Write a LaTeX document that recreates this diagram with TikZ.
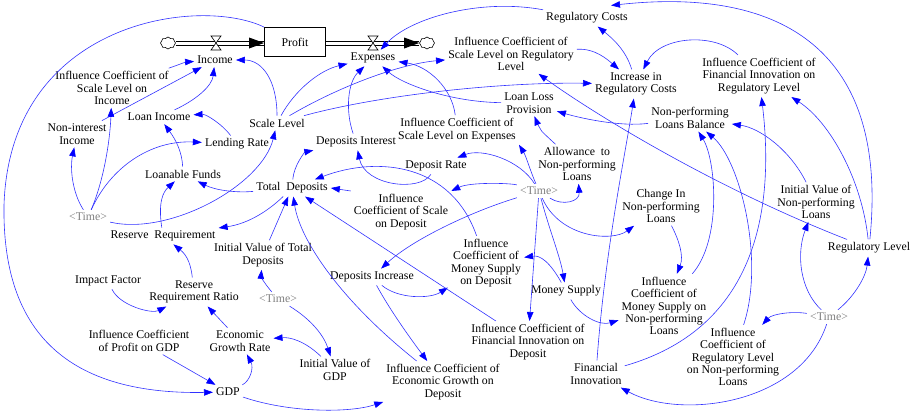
\documentclass[tikz,border=0pt]{standalone}
\usepackage{fontspec}
\setmainfont{Liberation Serif}
\usetikzlibrary{arrows.meta,shapes.symbols}
\definecolor{lkc}{RGB}{50,50,255}
\definecolor{tg}{RGB}{128,128,128}
\begin{document}
\begin{tikzpicture}[x=1pt,y=-1pt,
  v/.style={align=center,inner sep=3pt,font=\fontsize{11.8}{12.4}\selectfont},
  tm/.style={v,text=tg},
  lk/.style={draw=lkc,line width=0.6pt,-{Triangle[length=9pt,width=6.5pt,color=blue]}},
  pipeline/.style={draw=black,line width=0.6pt},
  cl/.style={cloud,draw,cloud puffs=8,cloud puff arc=120,aspect=1.3,minimum width=15pt,minimum height=12pt,inner sep=0pt,line width=0.6pt},
  valve/.style={draw=black,fill=white,line width=0.6pt}
  ]
\useasboundingbox (0,0) rectangle (917,413);
% stock and flows
\node[v,draw,line width=0.8pt,minimum width=61pt,minimum height=29pt] (profit) at (295,42) {Profit};
\node[cl] (cloudL) at (168,43) {};
\node[cl] (cloudR) at (427,43) {};
\coordinate (pinL) at (profit.west |- cloudL.east);
\coordinate (poutR) at (profit.east |- cloudR.west);
\draw[pipeline] ([yshift=2pt]cloudL.east) -- ([yshift=2pt]pinL);
\draw[pipeline] ([yshift=-2pt]cloudL.east) -- ([yshift=-2pt]pinL);
\fill[black] (pinL) -- ([shift={(-15,-5.5)}]pinL) -- ([shift={(-15,5.5)}]pinL) -- cycle;
\draw[pipeline] ([yshift=2pt]poutR) -- ([yshift=2pt]cloudR.west);
\draw[pipeline] ([yshift=-2pt]poutR) -- ([yshift=-2pt]cloudR.west);
\fill[black] (cloudR.west) -- ([shift={(-15,-5.5)}]cloudR.west) -- ([shift={(-15,5.5)}]cloudR.west) -- cycle;
\coordinate (valveL) at (216,43);
\coordinate (valveR) at (373,43);
\draw[valve] ([shift={(-5,-7)}]valveL) -- ([shift={(5,-7)}]valveL) -- ([shift={(-5,7)}]valveL) -- ([shift={(5,7)}]valveL) -- cycle;
\draw[valve] ([shift={(-5,-7)}]valveR) -- ([shift={(5,-7)}]valveR) -- ([shift={(-5,7)}]valveR) -- ([shift={(5,7)}]valveR) -- cycle;
% variables
\node[v] (income) at (215,60) {Income};
\node[v] (expenses) at (373,58) {Expenses};
\node[v] (icsli) at (112,88) {Influence Coefficient of\\Scale Level on\\Income};
\node[v] (nii) at (77,134) {Non-interest\\Income};
\node[v] (loaninc) at (159,117) {Loan Income};
\node[v] (lending) at (237,144) {Lending Rate};
\node[v] (loanable) at (183,174) {Loanable Funds};
\node[v] (scale) at (277,123) {Scale Level};
\node[v] (totdep) at (292,188) {Total~ Deposits};
\node[tm] (timeL) at (88,217) {<Time>};
\node[v] (rr) at (163,236) {Reserve~ Requirement};
\node[v] (ivtd) at (263,255) {Initial Value of Total\\Deposits};
\node[v] (impact) at (108,281) {Impact Factor};
\node[v] (rrr) at (194,292) {Reserve\\Requirement Ratio};
\node[tm] (timeM) at (278,299) {<Time>};
\node[v] (icpg) at (139,341) {Influence Coefficient\\of Profit on GDP};
\node[v] (egr) at (240,341) {Economic\\Growth Rate};
\node[v] (ivgdp) at (335,370) {Initial Value of\\GDP};
\node[v] (gdp) at (228,392) {GDP};
\node[v] (iceg) at (443,382) {Influence Coefficient of\\Economic Growth on\\Deposit};
\node[v] (depinc) at (372,277) {Deposits Increase};
\node[v] (icmsd) at (486,263) {Influence\\Coefficient of\\Money Supply\\on Deposit};
\node[v] (icfid) at (528,342) {Influence Coefficient of\\Financial Innovation on\\Deposit};
\node[v] (money) at (566,291) {Money Supply};
\node[v] (fininn) at (596,374) {Financial\\Innovation};
\node[v] (icsd) at (401,212) {Influence\\Coefficient of Scale\\on Deposit};
\node[v] (depint) at (356,142) {Deposits Interest};
\node[v] (deprate) at (436,166) {Deposit Rate};
\node[v] (icsle) at (457,130) {Influence Coefficient of\\Scale Level on Expenses};
\node[v] (llp) at (529,103) {Loan Loss\\Provision};
\node[v] (icslr) at (511,54) {Influence Coefficient of\\Scale Level on Regulatory\\Level};
\node[v] (regcost) at (587,18) {Regulatory Costs};
\node[v] (allow) at (577,164) {Allowance~ to\\Non-performing\\Loans};
\node[tm] (timeC) at (539,191) {<Time>};
\node[v] (incrc) at (636,84) {Increase in\\Regulatory Costs};
\node[v] (icfir) at (759,76) {Influence Coefficient of\\Financial Innovation on\\Regulatory Level};
\node[v] (nplb) at (690,118) {Non-performing\\Loans Balance};
\node[v] (chnpl) at (661,206) {Change In\\Non-performing\\Loans};
\node[v] (ivnpl) at (816,202) {Initial Value of\\Non-performing\\Loans};
\node[v] (reglev) at (869,248) {Regulatory Level};
\node[v] (icmsn) at (664,306) {Influence\\Coefficient of\\Money Supply on\\Non-performing\\Loans};
\node[tm] (timeR) at (829,317) {<Time>};
\node[v] (icrln) at (733,357) {Influence\\Coefficient of\\Regulatory Level\\on Non-performing\\Loans};
% links - left part
\draw[lk] (profit.north west) .. controls (200,-4) and (10,20) .. (4,205) .. controls (2,325) and (60,395) .. (gdp);
\draw[lk] (scale) .. controls (277,80) and (262,60) .. (income);
\draw[lk] (icsli) .. controls (175,66) and (186,62) .. (income);
\draw[lk] (nii) -- (income);
\draw[lk] (loaninc) .. controls (196,100) and (212,86) .. (income);
\draw[lk] (lending) .. controls (222,124) and (206,114) .. (loaninc);
\draw[lk] (loanable) .. controls (182,152) and (176,140) .. (loaninc);
\draw[lk] (timeL) .. controls (110,168) and (150,140) .. (lending);
\draw[lk] (timeL) .. controls (104,180) and (110,140) .. (icsli);
\draw[lk] (timeL) .. controls (72,192) and (70,168) .. (nii);
\draw[lk] (totdep) .. controls (235,193) and (215,190) .. (loanable);
\draw[lk] (rr) .. controls (158,202) and (163,192) .. (loanable);
\draw[lk] (timeL) .. controls (170,236) and (262,185) .. (scale);
\draw[lk] (totdep) .. controls (266,213) and (246,224) .. (rr);
\draw[lk] (ivtd) -- (totdep);
\draw[lk] (rrr) .. controls (191,266) and (188,256) .. (rr);
\draw[lk] (impact) .. controls (120,306) and (152,314) .. (rrr);
\draw[lk] (egr) -- (rrr);
\draw[lk] (icpg) -- (gdp);
\draw[lk] (gdp) .. controls (250,381) and (254,368) .. (egr);
\draw[lk] (ivgdp) .. controls (305,341) and (290,337) .. (egr);
\draw[lk] (timeM) .. controls (264,283) and (261,276) .. (ivtd);
\draw[lk] (timeM) .. controls (312,320) and (324,336) .. (ivgdp);
\draw[lk] (gdp) .. controls (290,413) and (350,413) .. (iceg);
% middle
\draw[lk] (depinc) .. controls (390,310) and (410,338) .. (iceg);
\draw[lk] (depinc) .. controls (398,299) and (430,299) .. (icmsd);
\draw[lk] (timeC) .. controls (470,212) and (412,240) .. (depinc);
\draw[lk] (icfid) -- (totdep);
\draw[lk] (iceg) .. controls (340,300) and (300,240) .. (totdep);
\draw[lk] (icmsd) .. controls (452,165) and (380,155) .. (totdep);
\draw[lk] (icsd.north west) -- (totdep.east);
\draw[lk] (totdep) .. controls (294,165) and (305,152) .. (depint);
\draw[lk] (depint) .. controls (345,110) and (348,82) .. (expenses);
\draw[lk] (deprate) .. controls (420,192) and (365,186) .. (depint);
\draw[lk] (timeC) .. controls (520,160) and (482,148) .. (deprate);
\draw[lk] (timeC) .. controls (530,170) and (526,156) .. (icsle.south east);
\draw[lk] (icsle) .. controls (452,88) and (428,66) .. (expenses);
\draw[lk] (llp) .. controls (450,102) and (402,84) .. (expenses);
\draw[lk] (scale) .. controls (295,90) and (320,70) .. (expenses);
\draw[lk] (scale) .. controls (340,86) and (400,64) .. (icslr);
\draw[lk] (scale) .. controls (380,95) and (500,82) .. (incrc);
\draw[lk] (regcost) .. controls (480,-2) and (410,18) .. (expenses);
\draw[lk] (timeC) .. controls (510,183) and (470,182) .. (icsd.north east);
\draw[lk] (timeC) -- (icfid);
\draw[lk] (timeC) .. controls (550,232) and (560,256) .. (money);
\draw[lk] (timeC) .. controls (560,238) and (612,242) .. (chnpl);
\draw[lk] (timeC) .. controls (562,206) and (580,202) .. (allow);
\draw[lk] (allow) .. controls (540,130) .. (llp);
\draw[lk] (money) .. controls (580,316) and (600,326) .. (icmsn);
\draw[lk] (money) .. controls (550,262) and (540,255) .. (icmsd);
% right part
\draw[lk] (nplb) .. controls (620,127) and (580,118) .. (llp);
\draw[lk] (reglev) .. controls (720,190) and (600,118) .. (icslr);
\draw[lk] (icslr) .. controls (595,48) and (608,60) .. (incrc);
\draw[lk] (incrc) .. controls (626,50) and (612,38) .. (regcost);
\draw[lk] (reglev) .. controls (890,40) and (770,-12) .. ([shift={(-20,-4)}]regcost.north east);
\draw[lk] (icfir) .. controls (715,32) and (660,36) .. (incrc);
\draw[lk] (fininn) .. controls (605,250) and (626,150) .. (incrc);
\draw[lk] (fininn) .. controls (750,330) and (776,220) .. (icfir);
\draw[lk] (icrln) .. controls (765,260) and (740,160) .. (nplb);
\draw[lk] (icmsn) .. controls (722,240) and (716,160) .. (nplb);
\draw[lk] (chnpl) .. controls (679,240) and (684,256) .. (icmsn);
\draw[lk] (reglev) .. controls (862,180) and (830,122) .. (icfir);
\draw[lk] (ivnpl) .. controls (790,150) and (760,128) .. (nplb);
\draw[lk] (timeR) .. controls (800,290) and (796,254) .. (ivnpl);
\draw[lk] (timeR) .. controls (855,296) and (866,276) .. (reglev);
\draw[lk] (timeR) .. controls (792,311) and (772,314) .. (icrln);
\draw[lk] (timeR) .. controls (800,405) and (680,420) .. (fininn);
\end{tikzpicture}
\end{document}
